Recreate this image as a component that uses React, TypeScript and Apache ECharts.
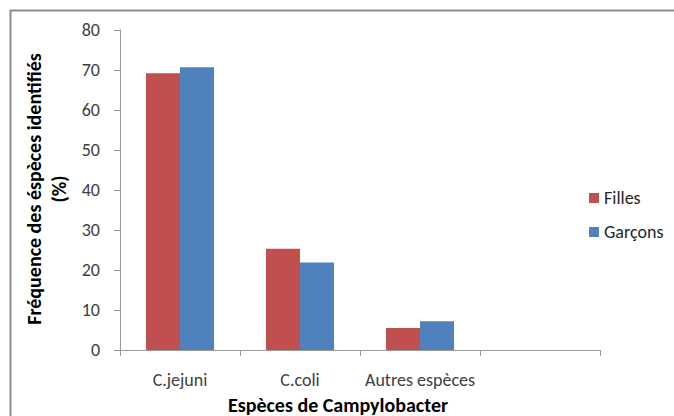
import React, { useEffect, useRef } from "react";
import * as echarts from "echarts";

const categories = ["C.jejuni", "C.coli", "Autres espèces", ""];
const filles = [69.2, 25.3, 5.5, null];
const garcons = [70.7, 21.9, 7.2, null];
const seriesNames = ["Filles", "Garçons"];
const yTitleLines = ["Fréquence des éspèces identifiés", "(%)"];
const xTitle = "Espèces de Campylobacter";

const FONT = "Carlito, 'Open Sans', sans-serif";

export default function App() {
  const ref = useRef<HTMLDivElement>(null);
  useEffect(() => {
    const chart = echarts.init(ref.current!, null, { renderer: "svg" });
    chart.setOption({
      animation: false,
      backgroundColor: "#ffffff",
      textStyle: { fontFamily: FONT },
      grid: { left: 120, right: 74, top: 30, bottom: 66, containLabel: false },
      legend: {
        orient: "vertical",
        left: 584,
        top: 184,
        itemWidth: 10,
        itemHeight: 10,
        itemGap: 16,
        icon: "rect",
        textStyle: { fontSize: 18, color: "#262626", fontFamily: FONT },
        data: seriesNames,
      },
      xAxis: {
        type: "category",
        data: categories,
        boundaryGap: true,
        axisLine: { lineStyle: { color: "#9a9a9a", width: 1 } },
        axisTick: { show: true, interval: 0, length: 6, lineStyle: { color: "#9a9a9a" } },
        axisLabel: { interval: 0, fontSize: 18, color: "#404040", margin: 21, fontFamily: FONT },
      },
      yAxis: {
        type: "value",
        min: 0,
        max: 80,
        interval: 10,
        splitLine: { show: false },
        axisLine: { show: true, lineStyle: { color: "#9a9a9a", width: 1 } },
        axisTick: { show: true, length: 6, lineStyle: { color: "#9a9a9a" } },
        axisLabel: { fontSize: 18, color: "#404040", margin: 20, fontFamily: FONT },
      },
      series: [
        {
          name: seriesNames[0],
          type: "bar",
          data: filles,
          barWidth: 34,
          barGap: "0%",
          itemStyle: { color: "#C0504D" },
        },
        {
          name: seriesNames[1],
          type: "bar",
          data: garcons,
          barWidth: 34,
          barGap: "0%",
          itemStyle: { color: "#4F81BD" },
        },
      ],
      graphic: [
        {
          type: "rect",
          silent: true,
          shape: { x: 10.5, y: 10.5, width: 700, height: 500 },
          style: { fill: "none", stroke: "#8c8c8c", lineWidth: 2 },
        },
        {
          type: "text",
          x: 46,
          y: 189,
          rotation: Math.PI / 2,
          style: {
            text: yTitleLines.join("\n"),
            fontSize: 20,
            fontWeight: "bold",
            fontFamily: FONT,
            fill: "#000000",
            align: "center",
            verticalAlign: "middle",
            lineHeight: 25,
          },
        },
        {
          type: "text",
          x: 338,
          y: 405,
          style: {
            text: xTitle,
            fontSize: 20,
            fontWeight: "bold",
            fontFamily: FONT,
            fill: "#000000",
            align: "center",
            verticalAlign: "middle",
          },
        },
      ],
    });
    return () => chart.dispose();
  }, []);
  return <div ref={ref} style={{ width: 674, height: 416, position: "absolute", left: 0, top: 0 }} />;
}
